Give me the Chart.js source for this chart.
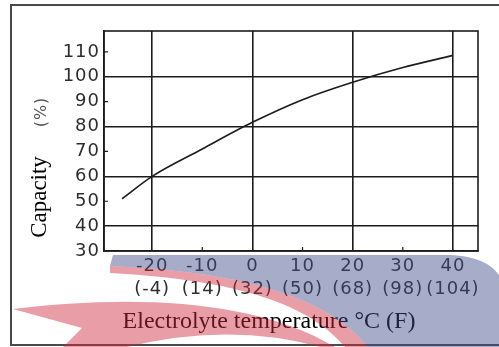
<!DOCTYPE html>
<html>
<head>
<meta charset="utf-8">
<script src="https://cdn.jsdelivr.net/npm/chart.js@4.4.1/dist/chart.umd.min.js"></script>
<style>
  html, body { margin: 0; padding: 0; background: #fff; }
  canvas { display: block; }
</style>
</head>
<body>
<canvas id="capChart" width="499" height="347"></canvas>
<script>
// Capacity vs electrolyte temperature
const tempC = [-26, -20, -10, 0, 10, 20, 30, 40];
const capacity = [51, 60, 71, 81.7, 90.8, 97.8, 103.7, 108.6];

// Axis ticks
const xTicks = [-20, -10, 0, 10, 20, 30, 40];
const xTicksF = ['(-4)', '(14)', '(32)', '(50)', '(68)', '(98)', '(104)'];
const yTicks = [30, 40, 50, 60, 70, 80, 90, 100, 110];
const xMinor = [-10, 10, 30];
const yMinor = [50, 70, 90, 110];

const LINE = '#1c1c1c';
const LABEL = '#2e2e2e';

// Frame, box, minor marks, titles and the watermark swooshes
const decoPlugin = {
  id: 'deco',
  beforeDraw(chart) {
    chart.ctx.letterSpacing = '1px';
  },
  afterDraw(chart) {
    const ctx = chart.ctx;
    const area = chart.chartArea;
    const xs = chart.scales.x;
    const ys = chart.scales.y;
    ctx.save();
    ctx.letterSpacing = '0px';

    // plot box (top and right sides)
    ctx.strokeStyle = LINE;
    ctx.lineWidth = 1.6;
    ctx.strokeRect(area.left, area.top, area.right - area.left, area.bottom - area.top);

    // short inside tick marks
    ctx.lineWidth = 1.2;
    ctx.beginPath();
    yMinor.forEach(v => {
      const py = ys.getPixelForValue(v);
      ctx.moveTo(area.left, py);
      ctx.lineTo(area.left + 4, py);
    });
    xMinor.forEach(v => {
      const px = xs.getPixelForValue(v);
      ctx.moveTo(px, area.bottom);
      ctx.lineTo(px, area.bottom - 4);
    });
    ctx.stroke();

    // outer frame
    ctx.strokeStyle = '#4a4a4a';
    ctx.lineWidth = 2;
    ctx.strokeRect(11, 5, 520, 340);

    // y title
    ctx.save();
    ctx.translate(40, 197);
    ctx.rotate(-Math.PI / 2);
    ctx.textAlign = 'center';
    ctx.textBaseline = 'middle';
    ctx.fillStyle = '#000';
    ctx.font = '23px "Liberation Serif", "Times New Roman", serif';
    ctx.fillText('Capacity', 0, 0);
    ctx.restore();

    ctx.save();
    ctx.translate(42, 112);
    ctx.rotate(-Math.PI / 2);
    ctx.textAlign = 'center';
    ctx.textBaseline = 'middle';
    ctx.fillStyle = '#555';
    ctx.letterSpacing = '1px';
    ctx.font = '16px "DejaVu Sans", sans-serif';
    ctx.fillText('(%)', 0, 0);
    ctx.restore();

    // x title
    ctx.textAlign = 'center';
    ctx.textBaseline = 'middle';
    ctx.fillStyle = '#000';
    ctx.font = '24px "Liberation Serif", "Times New Roman", serif';
    ctx.fillText('Electrolyte temperature \u00B0C (F)', 269, 322);

    // watermark swooshes laid over everything
    ctx.fillStyle = 'rgba(63, 74, 137, 0.46)';
    ctx.beginPath();
    ctx.moveTo(113, 255);
    ctx.lineTo(445, 255);
    ctx.bezierCurveTo(472, 255, 490, 262, 499, 275);
    ctx.lineTo(499, 347);
    ctx.lineTo(368, 347);
    ctx.bezierCurveTo(330, 300, 250, 272, 110, 266);
    ctx.closePath();
    ctx.fill();

    ctx.fillStyle = 'rgba(208, 41, 61, 0.46)';
    ctx.beginPath();
    ctx.moveTo(110, 266);
    ctx.bezierCurveTo(250, 272, 330, 300, 368, 347);
    ctx.lineTo(345, 347);
    ctx.bezierCurveTo(310, 305, 240, 280, 110, 273);
    ctx.closePath();
    ctx.fill();

    ctx.beginPath();
    ctx.moveTo(13, 309);
    ctx.bezierCurveTo(120, 296, 250, 296, 335, 347);
    ctx.lineTo(320, 347);
    ctx.quadraticCurveTo(230, 322, 127, 347);
    ctx.lineTo(63, 347);
    ctx.lineTo(82, 328);
    ctx.closePath();
    ctx.fill();

    ctx.restore();
  }
};

new Chart(document.getElementById('capChart'), {
  type: 'line',
  data: {
    datasets: [{
      data: tempC.map((t, i) => ({ x: t, y: capacity[i] })),
      borderColor: LINE,
      borderWidth: 1.6,
      pointRadius: 0,
      cubicInterpolationMode: 'monotone',
      fill: false
    }]
  },
  options: {
    responsive: false,
    animation: false,
    layout: { padding: { top: 31, right: 21, left: 0, bottom: 0 } },
    plugins: {
      legend: { display: false },
      tooltip: { enabled: false }
    },
    scales: {
      x: {
        type: 'linear',
        min: -29.6,
        max: 45,
        afterBuildTicks: s => { s.ticks = xTicks.map(v => ({ value: v })); },
        afterFit: s => { s.height = 96; },
        grid: {
          drawTicks: false,
          lineWidth: 1.6,
          color: c => (c.tick && c.tick.value % 20 === 0) ? LINE : 'rgba(0,0,0,0)'
        },
        border: { color: LINE, width: 1.6 },
        ticks: {
          padding: 4,
          maxRotation: 0,
          autoSkip: false,
          color: LABEL,
          font: { family: '"DejaVu Sans", sans-serif', size: 18, lineHeight: 1.28 },
          callback: v => {
            const i = xTicks.indexOf(v);
            return [String(v), xTicksF[i]];
          }
        }
      },
      y: {
        min: 30,
        max: 118.4,
        afterBuildTicks: s => { s.ticks = yTicks.map(v => ({ value: v })); },
        afterFit: s => { s.width = 104; },
        grid: {
          drawTicks: false,
          lineWidth: 1.6,
          color: c => (c.tick && c.tick.value % 20 === 0 && c.tick.value > 30) ? LINE : 'rgba(0,0,0,0)'
        },
        border: { color: LINE, width: 1.6 },
        ticks: {
          padding: 4,
          autoSkip: false,
          color: LABEL,
          font: { family: '"DejaVu Sans", sans-serif', size: 18 }
        }
      }
    }
  },
  plugins: [decoPlugin]
});
</script>
</body>
</html>
